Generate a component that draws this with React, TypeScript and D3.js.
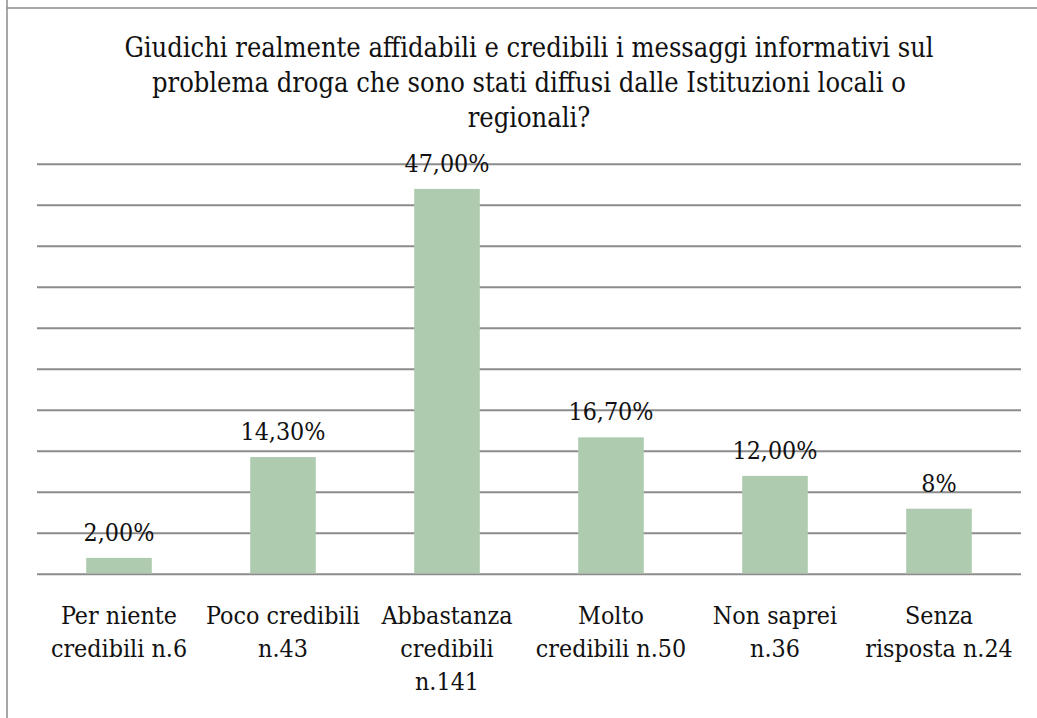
import React from "react";
import * as d3 from "d3";

const titleLines = [
  "Giudichi realmente affidabili e credibili i messaggi informativi sul",
  "problema droga che sono stati diffusi dalle Istituzioni locali o",
  "regionali?",
];
const categories = [
  ["Per niente", "credibili n.6"],
  ["Poco credibili", "n.43"],
  ["Abbastanza", "credibili", "n.141"],
  ["Molto", "credibili n.50"],
  ["Non saprei", "n.36"],
  ["Senza", "risposta n.24"],
];
const values = [2.0, 14.3, 47.0, 16.7, 12.0, 8.0];
const valueLabels = ["2,00%", "14,30%", "47,00%", "16,70%", "12,00%", "8%"];
const yTicks = [0, 5, 10, 15, 20, 25, 30, 35, 40, 45, 50];

export default function App() {
  const W = 1037;
  const H = 718;
  const left = 37;
  const right = 1021;
  const top = 164.3;
  const bottom = 574.3;
  const font = "'DejaVu Serif Condensed', 'DejaVu Serif', serif";

  const x = d3
    .scaleBand<number>()
    .domain(d3.range(values.length))
    .range([left, right])
    .paddingInner(0.6)
    .paddingOuter(0.3);
  const y = d3.scaleLinear().domain([0, 50]).range([bottom, top]);

  const textStyle = { fontFamily: font, fontStretch: "condensed" as const };

  return (
    <div style={{ position: "absolute", left: 0, top: 0 }}>
      <svg width={W} height={H} style={{ display: "block", background: "#fff" }}>
        <rect x={0} y={0} width={W} height={H} fill="#fff" />
        <line x1={7} y1={0} x2={7} y2={H} stroke="#8a8a8a" strokeWidth={1.5} />
        <line x1={7} y1={8} x2={W} y2={8} stroke="#8a8a8a" strokeWidth={1.5} />
        {titleLines.map((t, i) => (
          <text
            key={i}
            x={(left + right) / 2}
            y={57 + i * 35}
            textAnchor="middle"
            style={textStyle}
            fontSize={27}
            fill="#111"
          >
            {t}
          </text>
        ))}
        {yTicks.map((t) => (
          <line
            key={t}
            x1={left}
            x2={right}
            y1={y(t)}
            y2={y(t)}
            stroke="#8c8c8c"
            strokeWidth={2}
          />
        ))}
        {values.map((v, i) => (
          <rect
            key={i}
            x={x(i)}
            y={y(v)}
            width={x.bandwidth()}
            height={y(0) - y(v) - 1}
            fill="#aecbb0"
          />
        ))}
        {values.map((v, i) => (
          <text
            key={i}
            x={(x(i) as number) + x.bandwidth() / 2}
            y={y(v) - 17}
            textAnchor="middle"
            style={textStyle}
            fontSize={24.8}
            fill="#111"
          >
            {valueLabels[i]}
          </text>
        ))}
        {categories.map((lines, i) =>
          lines.map((l, j) => (
            <text
              key={i + "-" + j}
              x={(x(i) as number) + x.bandwidth() / 2}
              y={624 + j * 33}
              textAnchor="middle"
              style={textStyle}
              fontSize={24.8}
              fill="#111"
            >
              {l}
            </text>
          ))
        )}
      </svg>
    </div>
  );
}
